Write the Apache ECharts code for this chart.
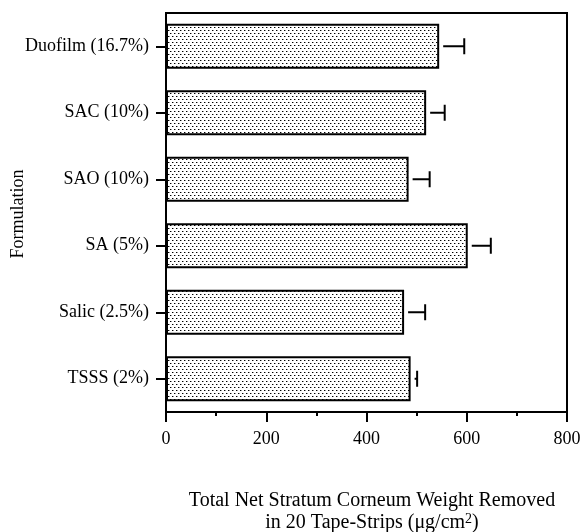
<!DOCTYPE html>
<html><head><meta charset="utf-8">
<script src="https://cdn.jsdelivr.net/npm/echarts@6/dist/echarts.min.js"></script>
<style>html,body{margin:0;padding:0;background:#fff}#c{width:582px;height:532px}</style>
</head><body><div id="c"></div>
<script>
const categories = ['Duofilm (16.7%)','SAC (10%)','SAO (10%)','SA (5%)','Salic (2.5%)','TSSS (2%)'];
const means = [545, 519, 484, 602, 475, 488];
const errors = [50, 37, 42, 46, 42, 13];
const xTicks = [0, 200, 400, 600, 800];
const yTitle = 'Formulation';

// dotted fill pattern
const pc = document.createElement('canvas');
pc.width = 4; pc.height = 6;
const pctx = pc.getContext('2d');
pctx.fillStyle = '#fff'; pctx.fillRect(0,0,4,6);
pctx.fillStyle = '#000';
pctx.fillRect(0,0,1,1);
pctx.fillRect(2,3,1,1);
pctx.fillStyle = '#999';
pctx.fillRect(1,0,1,1);
pctx.fillRect(3,3,1,1);

const FONT = '"Liberation Serif","DejaVu Serif",serif';
const chart = echarts.init(document.getElementById('c'), null, {renderer:'canvas'});
chart.setOption({
  animation:false,
  backgroundColor:'#fff',
  grid:{left:166,right:15,top:13,bottom:120,show:true,borderColor:'#000',borderWidth:2,
        backgroundColor:'transparent',containLabel:false,outerBoundsMode:'none'},
  graphic:[{type:'text',x:18,y:214,rotation:Math.PI/2,
    style:{text:yTitle,fill:'#000',font:'18px "Liberation Serif","DejaVu Serif",serif',
           textAlign:'center',textVerticalAlign:'middle'}}],
  xAxis:{
    type:'value',min:xTicks[0],max:xTicks[xTicks.length-1],interval:200,
    axisLine:{show:true,lineStyle:{color:'#000',width:2}},
    axisTick:{show:true,length:10,lineStyle:{color:'#000',width:2}},
    minorTick:{show:true,splitNumber:2,length:4,lineStyle:{color:'#000',width:2}},
    splitLine:{show:false},minorSplitLine:{show:false},
    axisLabel:{color:'#000',fontFamily:FONT,fontSize:18,margin:18},
    name:'{a|Total Net Stratum Corneum Weight Removed}\n{a|in 20 Tape-Strips (μg/cm}{s|2}{a|)}',
    nameLocation:'middle',nameGap:78,
    nameTextStyle:{color:'#000',fontFamily:FONT,fontSize:20,lineHeight:22,padding:[0,0,0,11],
      rich:{a:{fontFamily:FONT,fontSize:20,color:'#000',lineHeight:22},
            s:{fontFamily:FONT,fontSize:14,color:'#000',verticalAlign:'top',lineHeight:22,padding:[0,0,8,0]}}}
  },
  yAxis:{
    type:'category',data:categories,inverse:true,
    axisLine:{show:true,lineStyle:{color:'#000',width:2}},
    axisTick:{show:true,alignWithLabel:true,length:10,lineStyle:{color:'#000',width:2}},
    axisLabel:{color:'#000',fontFamily:FONT,fontSize:18,margin:17}
  },
  series:[
    {type:'bar',data:means,barWidth:'68%',
     itemStyle:{color:{image:pc,repeat:'repeat'},borderColor:'#000',borderWidth:2}},
    {type:'custom',
     data:means.map((m,i)=>[m,i,errors[i]]),
     renderItem:function(params,api){
       const v=api.value(0), idx=api.value(1), e=api.value(2);
       const p0=api.coord([v,idx]);
       const p1=api.coord([v+e,idx]);
       const start=Math.min(p0[0]+4,p1[0]);
       const h=8;
       return {type:'group',children:[
         {type:'line',shape:{x1:start,y1:p0[1],x2:p1[0],y2:p0[1]},style:{stroke:'#000',lineWidth:2}},
         {type:'line',shape:{x1:p1[0],y1:p0[1]-h,x2:p1[0],y2:p0[1]+h},style:{stroke:'#000',lineWidth:2}}
       ]};
     },
     z:5}
  ]
});
</script></body></html>
